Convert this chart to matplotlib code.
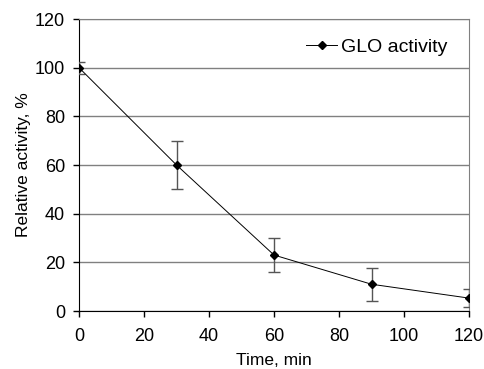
import matplotlib
matplotlib.use("Agg")
import matplotlib.pyplot as plt
from matplotlib.lines import Line2D

plt.rcParams['font.family'] = ['Liberation Sans', 'DejaVu Sans']

time_min = [0, 30, 60, 90, 120]
activity = [100, 60, 23, 11, 5.3]
errors = [2.5, 10, 7, 6.7, 3.6]

fig = plt.figure(figsize=(4.84, 3.69), dpi=100)
ax = fig.add_axes([79 / 484, 1 - 311 / 369, 390 / 484, 292 / 369])

ax.errorbar(time_min, activity, yerr=errors, color='black', linewidth=0.7,
            marker='D', markersize=4, ecolor='#555555', elinewidth=1,
            capsize=4, capthick=1, zorder=3)

ax.set_xlim(0, 120)
ax.set_ylim(0, 120)
ax.set_xticks(range(0, 121, 20))
ax.set_yticks(range(0, 121, 20))
ax.yaxis.grid(True, color='#808080', linewidth=1)
ax.set_axisbelow(True)

for s in ['top', 'right']:
    ax.spines[s].set_color('#808080')
for s in ['left', 'bottom']:
    ax.spines[s].set_color('black')
ax.tick_params(direction='out', length=4, width=1, labelsize=13, pad=8)
ax.tick_params(axis='y', pad=6)

ax.set_xlabel('Time, min', fontsize=12.5, labelpad=6)
ax.set_ylabel('Relative activity, %', fontsize=12.5, labelpad=3)

handle = Line2D([], [], color='black', linewidth=0.7, marker='D', markersize=4)
ax.legend([handle], ['GLO activity'], loc='upper right', frameon=False,
          fontsize=14, handlelength=1.6, handletextpad=0.2,
          bbox_to_anchor=(0.99, 0.995))

fig.savefig('out.png', dpi=100)
